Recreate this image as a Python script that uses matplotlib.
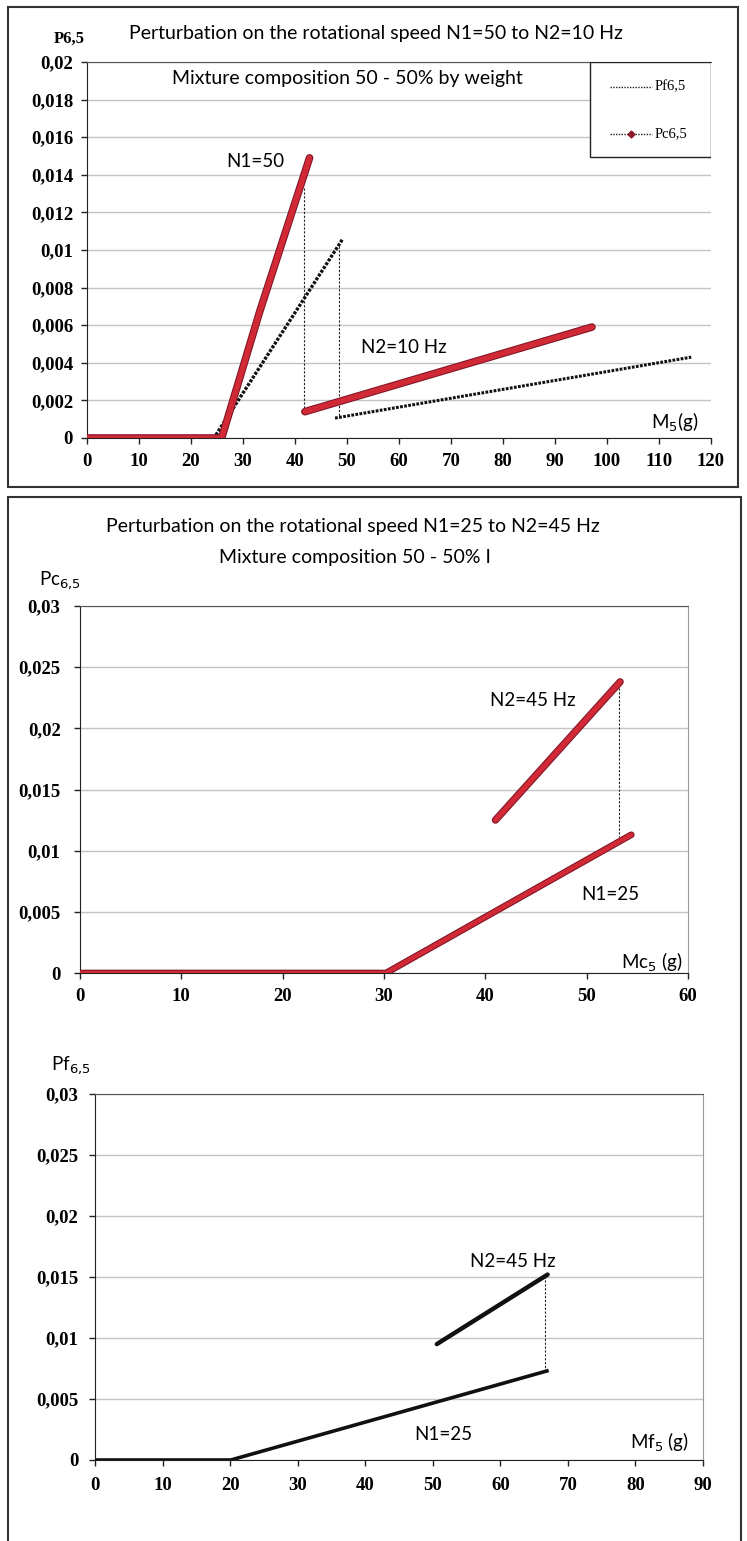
import matplotlib
matplotlib.use("Agg")
import matplotlib.pyplot as plt
import matplotlib.patheffects as pe
from matplotlib.patches import Rectangle

W, H = 747, 1541

# ---- top chart: N1=50 -> N2=10 Hz
top_xticks = [0, 10, 20, 30, 40, 50, 60, 70, 80, 90, 100, 110, 120]
top_yticks = [0, 0.002, 0.004, 0.006, 0.008, 0.01, 0.012, 0.014, 0.016, 0.018, 0.02]
top_ylabels = ["0", "0,002", "0,004", "0,006", "0,008", "0,01", "0,012",
               "0,014", "0,016", "0,018", "0,02"]
pc_n1_x = [0, 25.9, 33.3, 42.8]
pc_n1_y = [0, 0, 0.0068, 0.0149]
pc_n2_x = [41.9, 97.1]
pc_n2_y = [0.0014, 0.0059]
pc_jump_x = [41.7, 41.7]
pc_jump_y = [0.0133, 0.0014]
pf_n1_x = [0, 24.4, 49.2]
pf_n1_y = [0, 0, 0.0106]
pf_n2_x = [47.7, 116.2]
pf_n2_y = [0.00106, 0.0043]
pf_jump_x = [48.5, 48.5]
pf_jump_y = [0.0102, 0.00106]

# ---- middle chart: Pc, N1=25 -> N2=45 Hz
mid_xticks = [0, 10, 20, 30, 40, 50, 60]
mid_yticks = [0, 0.005, 0.01, 0.015, 0.02, 0.025, 0.03]
mid_ylabels = ["0", "0,005", "0,01", "0,015", "0,02", "0,025", "0,03"]
mc_n1_x = [0, 30.2, 54.4]
mc_n1_y = [0, 0, 0.0113]
mc_n2_x = [41.0, 53.3]
mc_n2_y = [0.0125, 0.0238]
mc_jump_x = [53.2, 53.2]
mc_jump_y = [0.0236, 0.0111]

# ---- bottom chart: Pf, N1=25 -> N2=45 Hz
bot_xticks = [0, 10, 20, 30, 40, 50, 60, 70, 80, 90]
bot_yticks = mid_yticks
bot_ylabels = mid_ylabels
mf_n1_x = [0, 20.1, 66.9]
mf_n1_y = [0, 0, 0.0073]
mf_n2_x = [50.6, 67.0]
mf_n2_y = [0.0095, 0.0152]
mf_jump_x = [66.6, 66.6]
mf_jump_y = [0.0151, 0.0074]

SANS = ["Lato", "DejaVu Sans"]
SERIF = "Liberation Serif"
RED = "#d12a36"
RED_EDGE = "#7d1526"


def rect(l, t, r, b):
    return [l / W, 1 - b / H, (r - l) / W, (b - t) / H]


def style(ax, xticks, yticks, ylabels, right_spine, xpad, ypad):
    ax.set_xlim(xticks[0], xticks[-1])
    ax.set_ylim(yticks[0], yticks[-1])
    ax.set_xticks(xticks)
    ax.set_xticklabels([str(t) for t in xticks])
    ax.set_yticks(yticks)
    ax.set_yticklabels(ylabels)
    ax.grid(axis="y", color="#c4c4c4", lw=1)
    ax.set_axisbelow(True)
    ax.tick_params(axis="x", direction="out", length=4, width=1, color="#222", pad=xpad)
    ax.tick_params(axis="y", direction="out", length=4, width=1, color="#222", pad=ypad)
    for lab in ax.get_xticklabels() + ax.get_yticklabels():
        lab.set_fontfamily(SERIF)
        lab.set_fontweight("bold")
        lab.set_fontsize(13.5)
    ax.spines["left"].set_color("#222")
    ax.spines["bottom"].set_color("#222")
    ax.spines["top"].set_color("#555")
    if right_spine:
        ax.spines["right"].set_color("#9a9a9a")
    else:
        ax.spines["right"].set_visible(False)


def red_line(ax, x, y, lw):
    ax.plot(x, y, color=RED, lw=lw, solid_capstyle="round", zorder=4,
            path_effects=[pe.withStroke(linewidth=lw + 1.5, foreground=RED_EDGE)])


fig = plt.figure(figsize=(W / 100, H / 100), dpi=100)

# outer frames
fig.add_artist(Rectangle((8 / W, 1 - 487 / H), 730 / W, 480 / H, transform=fig.transFigure,
                         fill=False, edgecolor="#333", lw=1.5))
fig.add_artist(Rectangle((8 / W, -0.01), 733 / W, 1 - 497 / H + 0.01, transform=fig.transFigure,
                         fill=False, edgecolor="#333", lw=1.5))

# ---------------- top chart
ax1 = fig.add_axes(rect(87, 62, 711, 438))
style(ax1, top_xticks, top_yticks, top_ylabels, False, 7, 6)
ax1.plot(pc_jump_x, pc_jump_y, color="#222", lw=0.8, ls=(0, (2, 1.5)), zorder=3)
ax1.plot(pf_jump_x, pf_jump_y, color="#222", lw=0.8, ls=(0, (2, 1.5)), zorder=3)
ax1.plot(pf_n1_x, pf_n1_y, color="#111", lw=2.4, ls=(0, (0.9, 0.45)), zorder=3)
ax1.plot(pf_n2_x, pf_n2_y, color="#111", lw=2.2, ls=(0, (0.9, 0.45)), zorder=3)
red_line(ax1, pc_n1_x, pc_n1_y, 4)
red_line(ax1, pc_n2_x, pc_n2_y, 4)
ax1.text(50, 0.0191, "Mixture composition 50 - 50% by weight", family=SANS, fontsize=14,
         ha="center", va="center")
ax1.text(32.3, 0.0147, "N1=50", family=SANS, fontsize=13.5, ha="center", va="center")
ax1.text(61, 0.0048, "N2=10 Hz", family=SANS, fontsize=13.5, ha="center", va="center")
ax1.text(113, 0.00085, "M$_5$(g)", family=SANS, fontsize=13.5, ha="center", va="center")

# legend box drawn by hand
lx0, ly0 = (590 - 87) / 624, (438 - 157) / 376
ax1.add_patch(Rectangle((lx0, ly0), 1 - lx0, 1 - ly0, transform=ax1.transAxes,
                        facecolor="white", edgecolor="#222", lw=1, zorder=6))
ly1 = (438 - 87) / 376
ly2 = (438 - 134) / 376
ax1.plot([(610 - 87) / 624, (652 - 87) / 624], [ly1, ly1], transform=ax1.transAxes,
         color="#222", lw=1, ls=(0, (1, 1)), zorder=7, clip_on=False)
ax1.plot([(610 - 87) / 624, (652 - 87) / 624], [ly2, ly2], transform=ax1.transAxes,
         color="#222", lw=1, ls=(0, (1, 1)), zorder=7, clip_on=False)
ax1.plot([(631 - 87) / 624], [ly2], transform=ax1.transAxes, marker="D", ms=3.5,
         color="#8b1a2a", zorder=8, clip_on=False)
ax1.text((655 - 87) / 624, ly1, "Pf6,5", transform=ax1.transAxes, family=SERIF,
         fontsize=10.5, va="center", zorder=8)
ax1.text((655 - 87) / 624, ly2, "Pc6,5", transform=ax1.transAxes, family=SERIF,
         fontsize=10.5, va="center", zorder=8)

fig.text(376 / W, 1 - 33 / H, "Perturbation on the rotational speed N1=50 to N2=10 Hz",
         family=SANS, fontsize=14, ha="center", va="center")
fig.text(69 / W, 1 - 39 / H, "P6,5", family=SERIF, fontweight="bold", fontsize=12,
         ha="center", va="center")

# ---------------- middle chart
ax2 = fig.add_axes(rect(80, 606, 688, 973))
style(ax2, mid_xticks, mid_yticks, mid_ylabels, True, 7, 10)
ax2.plot(mc_jump_x, mc_jump_y, color="#222", lw=0.8, ls=(0, (2, 1.5)), zorder=3)
red_line(ax2, mc_n1_x, mc_n1_y, 3.3)
red_line(ax2, mc_n2_x, mc_n2_y, 3.8)
ax2.text(44.7, 0.0223, "N2=45 Hz", family=SANS, fontsize=13.5, ha="center", va="center")
ax2.text(52.3, 0.0064, "N1=25", family=SANS, fontsize=13.5, ha="center", va="center")
ax2.text(56.4, 0.0009, "Mc$_5$ (g)", family=SANS, fontsize=13.5, ha="center", va="center")

fig.text(353 / W, 1 - 527 / H, "Perturbation on the rotational speed N1=25 to N2=45 Hz",
         family=SANS, fontsize=14, ha="center", va="center")
fig.text(355 / W, 1 - 557 / H, "Mixture composition 50 - 50% I",
         family=SANS, fontsize=14, ha="center", va="center")
fig.text(60 / W, 1 - 580 / H, "Pc$_{6{,}5}$", family=SANS, fontsize=13.5,
         ha="center", va="center")

# ---------------- bottom chart
ax3 = fig.add_axes(rect(95, 1094, 703, 1460))
style(ax3, bot_xticks, bot_yticks, bot_ylabels, True, 8, 8)
ax3.plot(mf_jump_x, mf_jump_y, color="#222", lw=0.8, ls=(0, (2, 1.5)), zorder=3)
ax3.plot(mf_n1_x, mf_n1_y, color="#111", lw=2.6, zorder=4)
ax3.plot(mf_n2_x, mf_n2_y, color="#111", lw=3.2, solid_capstyle="round", zorder=4)
ax3.text(61.9, 0.0163, "N2=45 Hz", family=SANS, fontsize=13.5, ha="center", va="center")
ax3.text(51.5, 0.00205, "N1=25", family=SANS, fontsize=13.5, ha="center", va="center")
ax3.text(83.6, 0.00148, "Mf$_5$ (g)", family=SANS, fontsize=13.5, ha="center", va="center")

fig.text(71 / W, 1 - 1065 / H, "Pf$_{6{,}5}$", family=SANS, fontsize=13.5,
         ha="center", va="center")

fig.savefig("out.png", dpi=100)
